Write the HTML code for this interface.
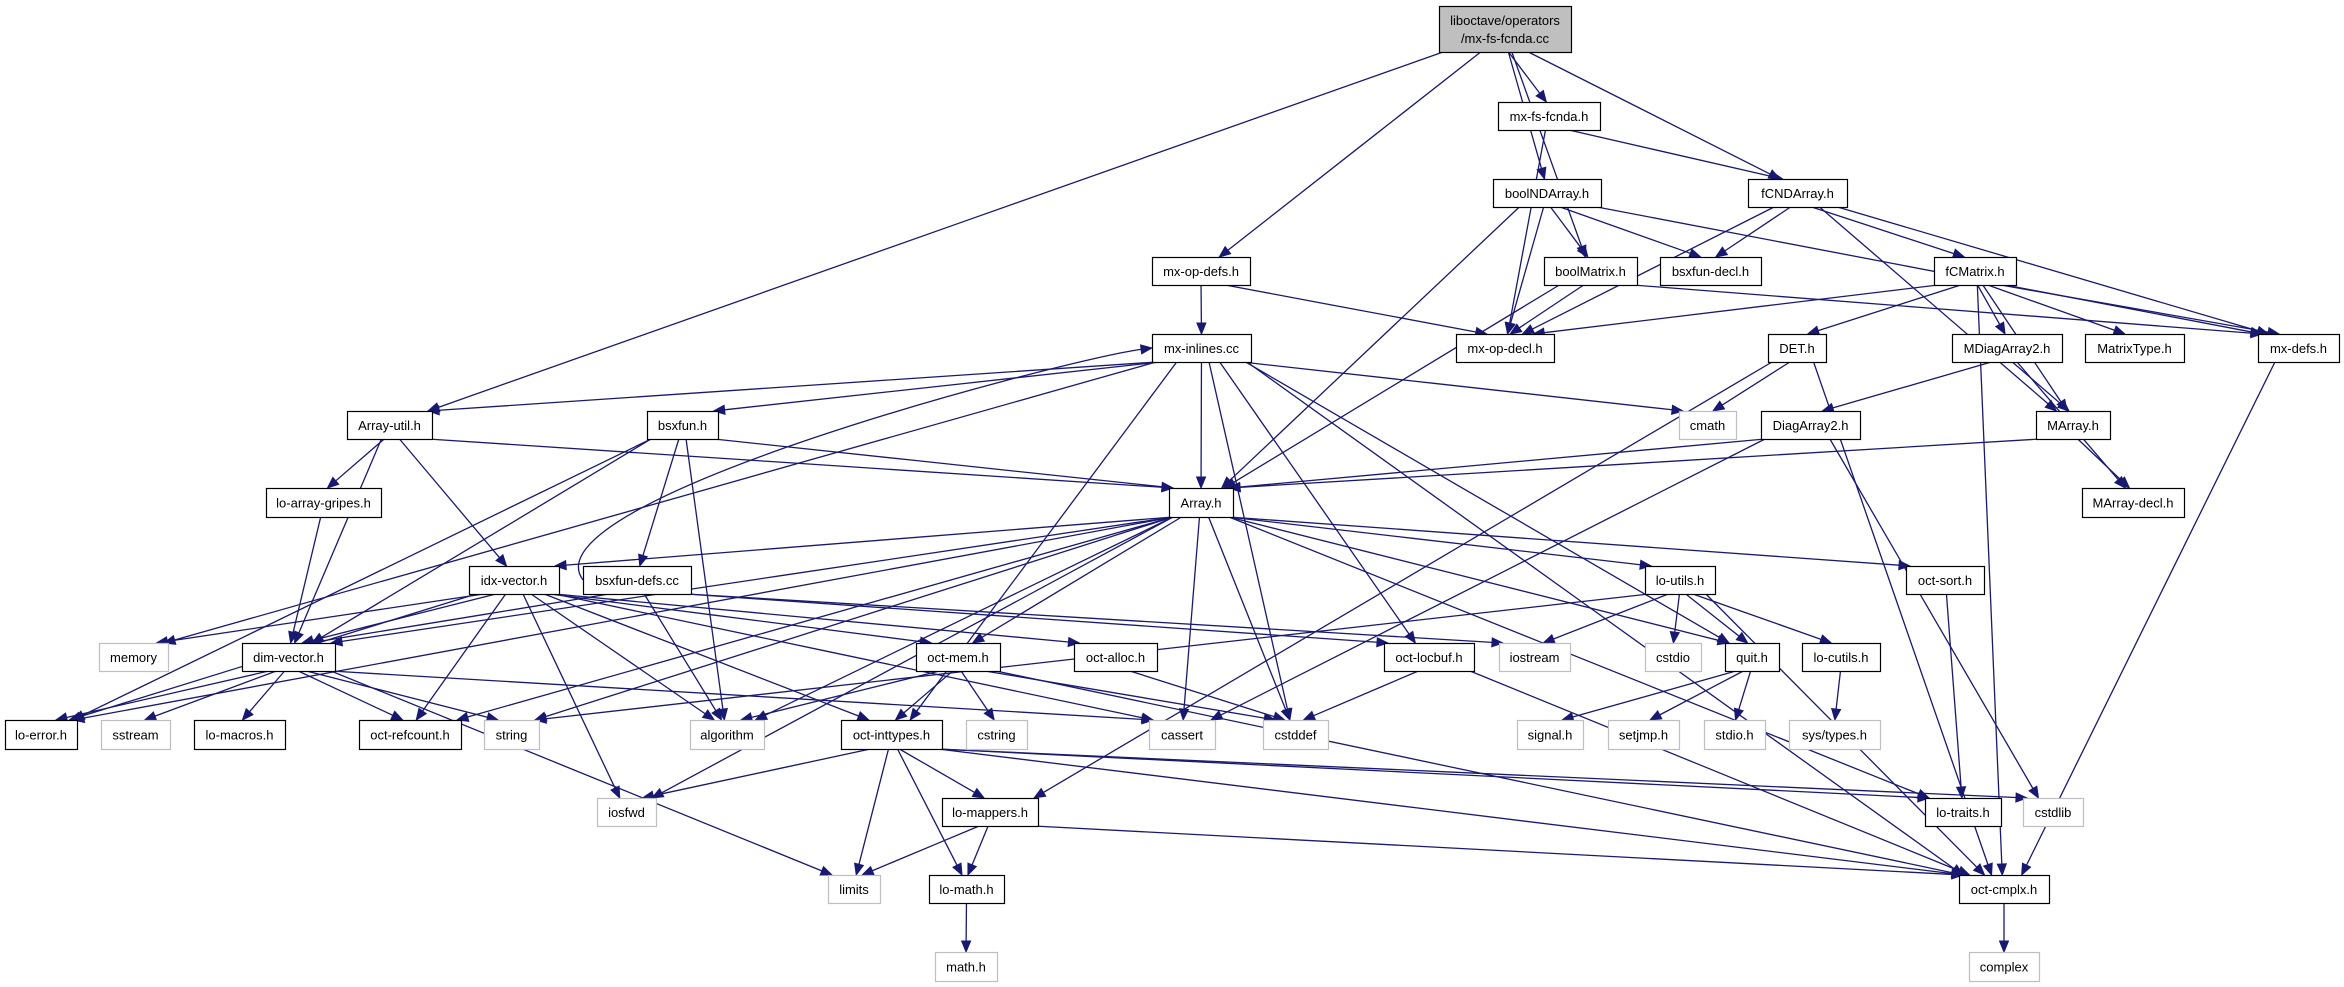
<!DOCTYPE html>
<html><head><meta charset="utf-8">
<style>
html,body{margin:0;padding:0;background:#fff;}
body{width:2344px;height:987px;overflow:hidden;position:relative;}
svg{position:absolute;left:0;top:0;}
text{font-family:"Liberation Sans",Arial,sans-serif;font-size:13px;}
</style></head>
<body>
<svg id="g" width="2344" height="987" viewBox="0 0 2344 987" xmlns="http://www.w3.org/2000/svg"></svg>
<script>
var N={
root:[1439,6,1571,52,"liboctave/operators","/mx-fs-fcnda.cc",2],
mxfs:[1498,102,1600,130,"mx-fs-fcnda.h"],
boolND:[1493,179,1601,207,"boolNDArray.h"],
fCND:[1748,179,1847,207,"fCNDArray.h"],
opdefs:[1152,257,1250,285,"mx-op-defs.h"],
boolM:[1544,257,1637,285,"boolMatrix.h"],
bsxdecl:[1660,257,1761,285,"bsxfun-decl.h"],
fCM:[1934,257,2016,285,"fCMatrix.h"],
inl:[1152,334,1251,362,"mx-inlines.cc"],
opdecl:[1456,334,1554,362,"mx-op-decl.h"],
DET:[1768,334,1826,362,"DET.h"],
MD2:[1952,334,2062,362,"MDiagArray2.h"],
MT:[2085,334,2184,362,"MatrixType.h"],
mxdefs:[2258,334,2339,362,"mx-defs.h"],
cmath:[1679,411,1736,439,"cmath",1],
D2:[1761,411,1860,439,"DiagArray2.h"],
MA:[2036,411,2110,439,"MArray.h"],
AU:[347,411,432,439,"Array-util.h"],
bsxfun:[647,411,718,439,"bsxfun.h"],
Arr:[1169,488,1233,517,"Array.h"],
MAD:[2082,488,2184,517,"MArray-decl.h"],
lag:[266,488,381,517,"lo-array-gripes.h"],
idx:[469,566,559,594,"idx-vector.h"],
bdefs:[583,566,691,594,"bsxfun-defs.cc"],
lu:[1645,566,1715,594,"lo-utils.h"],
sort:[1906,566,1984,594,"oct-sort.h"],
memory:[99,643,168,671,"memory",1],
dv:[242,643,335,671,"dim-vector.h"],
mem:[916,643,1000,671,"oct-mem.h"],
alloc:[1074,643,1157,671,"oct-alloc.h"],
locbuf:[1384,643,1474,671,"oct-locbuf.h"],
iostream:[1499,643,1570,671,"iostream",1],
cstdio:[1645,643,1701,671,"cstdio",1],
quit:[1725,643,1779,671,"quit.h"],
cutils:[1802,643,1880,671,"lo-cutils.h"],
err:[5,720,77,749,"lo-error.h"],
sstream:[101,720,170,749,"sstream",1],
macros:[194,720,285,749,"lo-macros.h"],
refc:[359,720,461,749,"oct-refcount.h"],
string:[484,720,539,749,"string",1],
algo:[690,720,764,749,"algorithm",1],
intt:[841,720,942,749,"oct-inttypes.h"],
cstring:[966,720,1027,749,"cstring",1],
cassert:[1149,720,1215,749,"cassert",1],
cstddef:[1263,720,1328,749,"cstddef",1],
signal:[1517,720,1583,749,"signal.h",1],
setjmp:[1608,720,1679,749,"setjmp.h",1],
stdioh:[1704,720,1765,749,"stdio.h",1],
systypes:[1789,720,1880,749,"sys/types.h",1],
iosfwd:[597,798,656,826,"iosfwd",1],
mappers:[942,798,1038,826,"lo-mappers.h"],
traits:[1925,798,2001,826,"lo-traits.h"],
cstdlib:[2023,798,2083,826,"cstdlib",1],
limits:[828,875,880,903,"limits",1],
lmath:[929,875,1004,903,"lo-math.h"],
cmplx:[1959,875,2049,903,"oct-cmplx.h"],
mathh:[935,952,997,981,"math.h",1],
complex:[1969,952,2039,981,"complex",1]
};
var E={
root:["AU","opdefs","mxfs","boolND","boolM","fCND"],
mxfs:["fCND","opdecl"],
boolND:["boolM","bsxdecl","opdecl","Arr","mxdefs"],
fCND:["bsxdecl","fCM","opdecl","MA","mxdefs"],
opdefs:["opdecl","inl"],
boolM:["opdecl","Arr","mxdefs"],
fCM:["opdecl","DET","MD2","MT","mxdefs","MA","cmplx"],
mxdefs:["cmplx"],
inl:["AU","bsxfun","Arr","cmath","intt","cstddef","locbuf","quit","cmplx","memory"],
DET:["cmath","mappers","cmplx"],
MD2:["D2","MA","MAD"],
D2:["Arr","cassert","cstdlib"],
MA:["Arr","MAD"],
AU:["lag","Arr","dv","idx"],
bsxfun:["Arr","bdefs","dv","algo","err"],
lag:["dv"],
Arr:["dv","idx","lu","sort","quit","traits","mem","refc","cassert","cstddef","algo","iosfwd","err","string"],
idx:["memory","dv","err","refc","iosfwd","algo","intt","mem","alloc","cassert"],
bdefs:["dv","algo","iostream","locbuf","inl"],
dv:["err","sstream","macros","refc","string","limits","cassert"],
mem:["algo","intt","cstring","cstddef","cmplx"],
alloc:["cstddef"],
intt:["iosfwd","limits","mappers","lmath","traits","cmplx","cstdlib"],
mappers:["limits","lmath","cmplx"],
lmath:["mathh"],
cmplx:["complex"],
lu:["string","iostream","cstdio","quit","cutils","cmplx"],
quit:["signal","setjmp","stdioh"],
cutils:["systypes"],
sort:["traits"],
locbuf:["cstddef","cmplx"]
};
var svg=document.getElementById("g"),NS="http://www.w3.org/2000/svg",C="#191970";
function el(t,a){var e=document.createElementNS(NS,t);for(var k in a)e.setAttribute(k,a[k]);svg.appendChild(e);return e;}
function cl(v,a,b){return Math.max(a,Math.min(b,v));}
for(var s in E){E[s].forEach(function(t){
 var a=N[s],b=N[t];if(!a||!b)return;
 var acx=(a[0]+a[2])/2,bcx=(b[0]+b[2])/2,sx,sy,ex,ey,c1x,c1y,c2x,c2y;
 if(b[1]>a[3]+2){
  sy=a[3];ey=b[1];
  sx=cl(acx+(bcx-acx)*0.08,a[0]+4,a[2]-4);
  ex=cl(bcx+(acx-bcx)*0.06,b[0]+4,b[2]-4);
  var dy=ey-sy;
  c1x=sx+(ex-sx)*0.3;c1y=sy+dy*0.3;c2x=ex-(ex-sx)*0.3;c2y=ey-dy*0.3;
 } else if(b[3]<a[1]){
  sx=a[0];sy=(a[1]+a[3])/2;ex=b[0];ey=(b[1]+b[3])/2;
  c1x=sx-60;c1y=sy-80;c2x=ex-80;c2y=ey+10;
 } else {
  sy=(a[1]+a[3])/2;ey=(b[1]+b[3])/2;
  if(b[0]>a[2]){sx=a[2];ex=b[0];}else{sx=a[0];ex=b[2];}
  c1x=(sx+ex)/2;c1y=sy;c2x=(sx+ex)/2;c2y=ey;
 }
 var dx=ex-c2x,dyy=ey-c2y,L=Math.sqrt(dx*dx+dyy*dyy)||1;dx/=L;dyy/=L;
 var bx=ex-dx*11,by=ey-dyy*11;
 el("path",{d:"M"+sx+","+sy+" C"+c1x+","+c1y+" "+c2x+","+c2y+" "+bx+","+by,fill:"none",stroke:C,"stroke-width":1.3});
 el("polygon",{points:ex+","+ey+" "+(bx-dyy*4.5)+","+(by+dx*4.5)+" "+(bx+dyy*4.5)+","+(by-dx*4.5),fill:C,stroke:C});
});}
for(var k in N){var n=N[k],w=n[2]-n[0],h=n[3]-n[1];
 var ext=(n[5]===1);
 var root=(n[6]===2);
 el("rect",{x:n[0]+0.5,y:n[1]+0.5,width:w,height:h,fill:root?"#bfbfbf":"#fff",stroke:ext?"#bfbfbf":"#000","stroke-width":1.2});
 if(root){
  var t1=el("text",{x:(n[0]+n[2])/2,y:n[1]+19,"text-anchor":"middle",fill:"#000"});t1.textContent=n[4];
  var t2=el("text",{x:(n[0]+n[2])/2,y:n[1]+37,"text-anchor":"middle",fill:"#000"});t2.textContent=n[5];
 } else {
  var t=el("text",{x:(n[0]+n[2])/2,y:n[1]+h/2+5,"text-anchor":"middle",fill:"#000"});t.textContent=n[4];
 }
}
</script>
</body></html>
